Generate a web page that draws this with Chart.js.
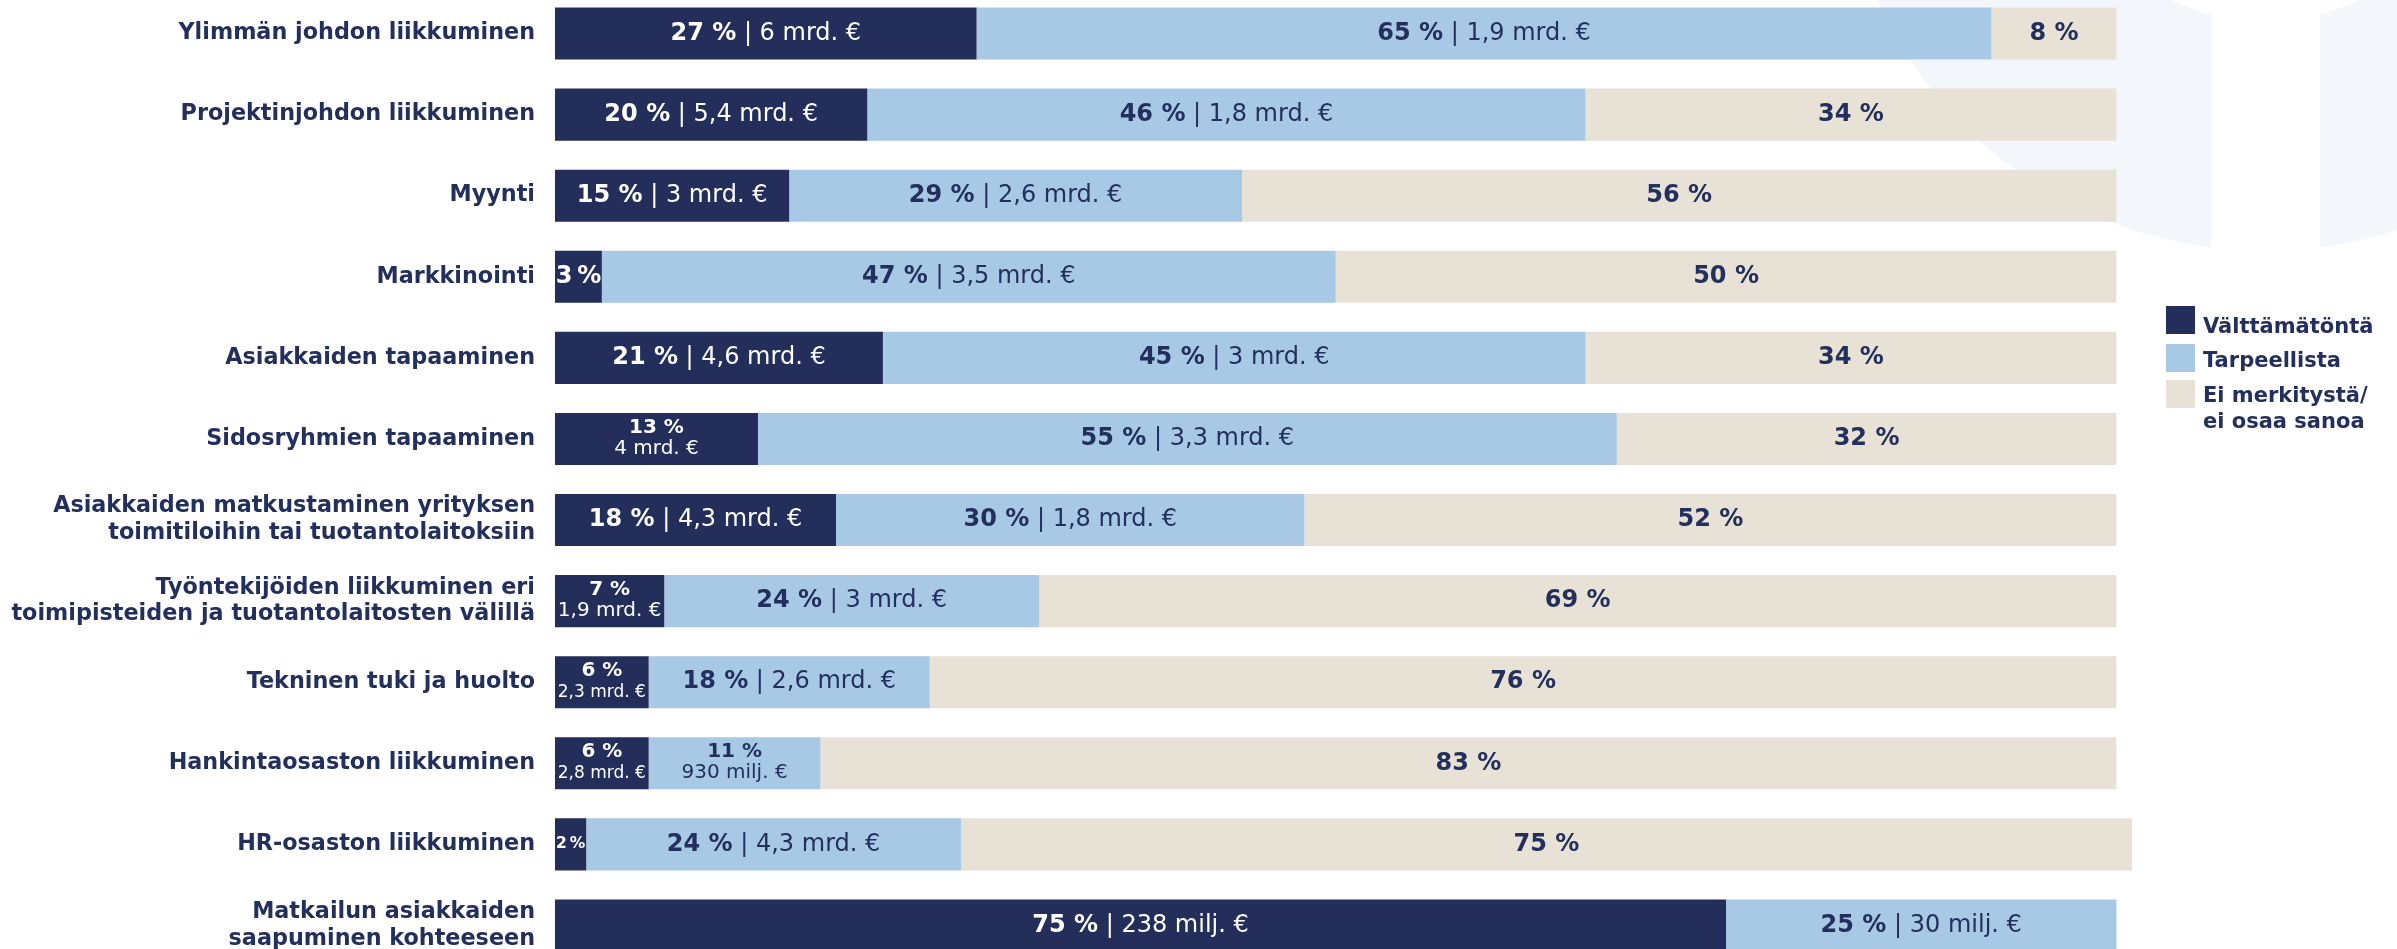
<!DOCTYPE html>
<html lang="fi">
<head>
<meta charset="utf-8">
<title>Liikkumisen merkitys</title>
<script src="https://cdn.jsdelivr.net/npm/chart.js@4.4.1/dist/chart.umd.min.js"></script>
<style>
  html, body { margin: 0; padding: 0; background: #fff; overflow: hidden; }
  body { width: 2397px; height: 949px; position: relative; }
  #wrap { position: absolute; left: 0; top: -7px; width: 2397px; height: 973px; }
  #legend { position: absolute; left: 2166px; top: 306px; font-family: "DejaVu Sans"; font-weight: bold; font-size: 21px; color: #232f5c; }
  #legend .box { position: absolute; left: 0; width: 29px; height: 28px; }
  #legend .txt { position: absolute; left: 37px; line-height: 26px; white-space: nowrap; }
</style>
</head>
<body>
<div id="wrap"><canvas id="chart"></canvas></div>
<div id="legend"></div>
<script>
const categories = [
  'Ylimmän johdon liikkuminen',
  'Projektinjohdon liikkuminen',
  'Myynti',
  'Markkinointi',
  'Asiakkaiden tapaaminen',
  'Sidosryhmien tapaaminen',
  ['Asiakkaiden matkustaminen yrityksen', 'toimitiloihin tai tuotantolaitoksiin'],
  ['Työntekijöiden liikkuminen eri', 'toimipisteiden ja tuotantolaitosten välillä'],
  'Tekninen tuki ja huolto',
  'Hankintaosaston liikkuminen',
  'HR-osaston liikkuminen',
  ['Matkailun asiakkaiden', 'saapuminen kohteeseen']
];
const seriesNames = ['Välttämätöntä', 'Tarpeellista', 'Ei merkitystä/ ei osaa sanoa'];
const seriesColors = ['#232e5b', '#a7c9e6', '#e8e2d6'];
const valttamatonta = [27, 20, 15, 3, 21, 13, 18, 7, 6, 6, 2, 75];
const tarpeellista = [65, 46, 29, 47, 45, 55, 30, 24, 18, 11, 24, 25];
const eiMerkitysta = [8, 34, 56, 50, 34, 32, 52, 69, 76, 83, 75, 0];
const valttamatontaEur = ['6 mrd. €', '5,4 mrd. €', '3 mrd. €', '', '4,6 mrd. €', '4 mrd. €',
  '4,3 mrd. €', '1,9 mrd. €', '2,3 mrd. €', '2,8 mrd. €', '', '238 milj. €'];
const tarpeellistaEur = ['1,9 mrd. €', '1,8 mrd. €', '2,6 mrd. €', '3,5 mrd. €', '3 mrd. €', '3,3 mrd. €',
  '1,8 mrd. €', '3 mrd. €', '2,6 mrd. €', '930 milj. €', '4,3 mrd. €', '30 milj. €'];

const NAVY = '#232f5c';
const FONT = '"DejaVu Sans"';

// biggest row total (HR row adds up to 101)
const xMax = Math.max(...categories.map((c, i) => valttamatonta[i] + tarpeellista[i] + eiMerkitysta[i]));

// faint round logo shape behind the chart, top right
const watermark = {
  id: 'watermark',
  beforeDraw(chart) {
    const ctx = chart.ctx;
    const oy = 7; // canvas starts 7px above the page
    ctx.save();
    ctx.fillStyle = '#f3f7fb';
    ctx.beginPath();
    ctx.arc(2265, -174 + oy, 425, 0, Math.PI * 2);
    ctx.fill();
    ctx.fillStyle = '#ffffff';
    ctx.beginPath();
    ctx.arc(2265, -190 + oy, 212, 0, Math.PI * 2);
    ctx.fill();
    ctx.fillRect(2211, 0, 109, 300);
    ctx.restore();
  }
};

function setFont(ctx, weight, size) {
  ctx.font = weight + ' ' + size + 'px ' + FONT;
}

function fitSize(ctx, weight, size, texts, maxW) {
  let s = size;
  setFont(ctx, weight, s);
  while (s > 10 && Math.max(...texts.map(t => ctx.measureText(t).width)) > maxW) {
    s -= 0.5;
    setFont(ctx, weight, s);
  }
  return s;
}

const segLabels = {
  id: 'segLabels',
  afterDatasetsDraw(chart) {
    const ctx = chart.ctx;
    ctx.save();
    ctx.textBaseline = 'middle';
    chart.data.datasets.forEach((ds, di) => {
      const meta = chart.getDatasetMeta(di);
      meta.data.forEach((bar, i) => {
        const v = ds.data[i];
        if (!v) return;
        const p = bar.getProps(['x', 'y', 'base'], true);
        const w = Math.abs(p.x - p.base);
        const cx = (p.x + p.base) / 2;
        const pct = v + ' %';
        const eur = ds.eur ? ds.eur[i] : '';
        ctx.fillStyle = ds.labelColor;
        if (eur && w >= 215) {
          const rest = ' | ' + eur;
          setFont(ctx, 'bold', 24);
          const a = ctx.measureText(pct).width;
          setFont(ctx, 'normal', 24);
          const b = ctx.measureText(rest).width;
          const x0 = cx - (a + b) / 2;
          ctx.textAlign = 'left';
          setFont(ctx, 'bold', 24);
          ctx.fillText(pct, x0, p.y);
          setFont(ctx, 'normal', 24);
          ctx.fillText(rest, x0 + a, p.y);
        } else if (eur) {
          // narrow segment: percent on top, euros below
          ctx.textAlign = 'center';
          fitSize(ctx, 'bold', 20, [pct], w - 4);
          ctx.fillText(pct, cx, p.y - 11);
          fitSize(ctx, 'normal', 20, [eur], w - 3);
          ctx.fillText(eur, cx, p.y + 10);
        } else {
          ctx.textAlign = 'center';
          const t = w < 60 ? v + '\u2009%' : pct;
          fitSize(ctx, 'bold', 24, [t], w - 1);
          ctx.fillText(t, cx, p.y);
        }
      });
    });
    ctx.restore();
  }
};

const chart = new Chart(document.getElementById('chart'), {
  type: 'bar',
  data: {
    labels: categories,
    datasets: [
      { label: seriesNames[0], data: valttamatonta, backgroundColor: seriesColors[0], eur: valttamatontaEur, labelColor: '#ffffff' },
      { label: seriesNames[1], data: tarpeellista, backgroundColor: seriesColors[1], eur: tarpeellistaEur, labelColor: NAVY },
      { label: seriesNames[2], data: eiMerkitysta, backgroundColor: seriesColors[2], labelColor: NAVY }
    ]
  },
  options: {
    indexAxis: 'y',
    responsive: true,
    maintainAspectRatio: false,
    animation: false,
    layout: { padding: { top: 0, bottom: 0, left: 0, right: 265 } },
    datasets: { bar: { categoryPercentage: 1, barPercentage: 0.642, borderWidth: 0 } },
    scales: {
      x: { stacked: true, min: 0, max: xMax, display: false },
      y: {
        stacked: true,
        grid: { display: false, drawTicks: false },
        border: { display: false },
        ticks: {
          padding: 20,
          color: NAVY,
          font: { family: 'DejaVu Sans', weight: 'bold', size: 22.3, lineHeight: 1.2 }
        },
        afterFit(scale) {
          scale.width = 555;
          scale.paddingTop = 0;
          scale.paddingBottom = 0;
        }
      }
    },
    plugins: {
      legend: { display: false },
      tooltip: { enabled: false }
    }
  },
  plugins: [watermark, segLabels]
});

// legend built from the series names and colours
const legend = document.getElementById('legend');
const boxTops = [0, 38, 74];
const txtTops = [7, 41, 76];
seriesNames.forEach((name, i) => {
  const box = document.createElement('div');
  box.className = 'box';
  box.style.top = boxTops[i] + 'px';
  box.style.background = seriesColors[i];
  legend.appendChild(box);
  const txt = document.createElement('div');
  txt.className = 'txt';
  txt.style.top = txtTops[i] + 'px';
  txt.innerHTML = name.replace('/ ', '/<br>');
  legend.appendChild(txt);
});
</script>
</body>
</html>
